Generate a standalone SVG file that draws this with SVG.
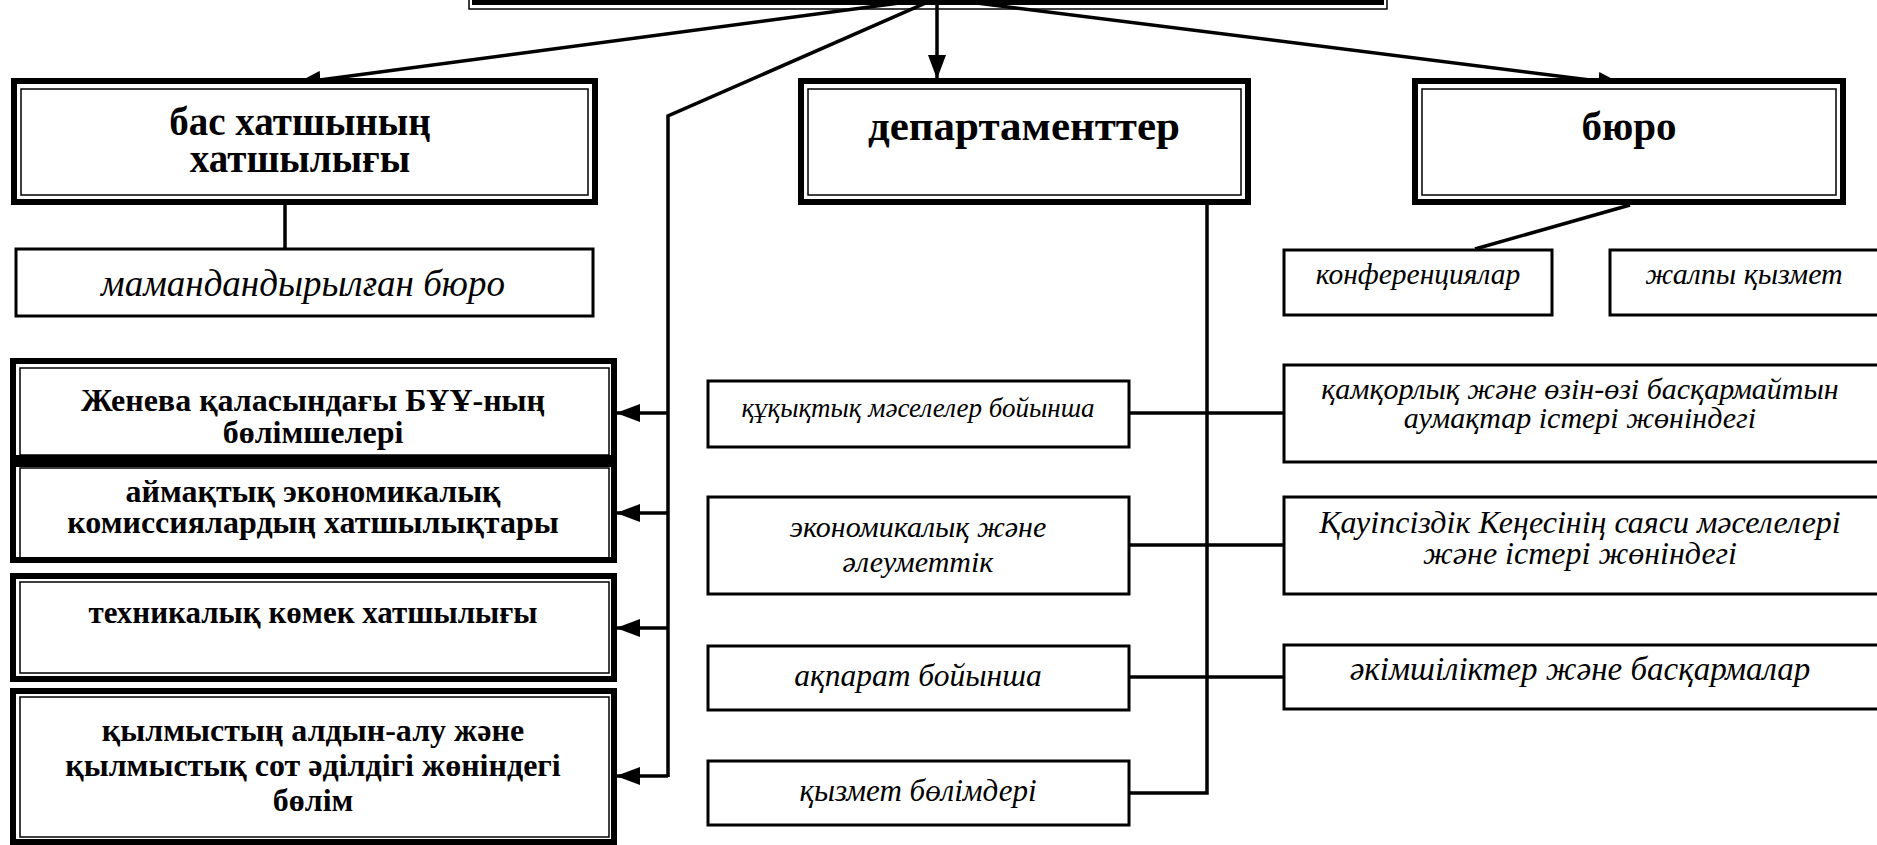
<svg xmlns="http://www.w3.org/2000/svg" width="1877" height="845" viewBox="0 0 1877 845">
<style>
.o{fill:#fff;stroke:#000;stroke-width:6}
.i{fill:none;stroke:#000;stroke-width:1.5}
.s{fill:#fff;stroke:#000;stroke-width:3}
.c{fill:none;stroke:#000;stroke-width:3.5}
.b{font-family:"Liberation Serif","DejaVu Serif",serif;font-weight:bold;text-anchor:middle;fill:#000}
.t{font-family:"Liberation Serif","DejaVu Serif",serif;font-style:italic;text-anchor:middle;fill:#000}
</style>
<defs>
<marker id="ah" markerUnits="userSpaceOnUse" markerWidth="24" markerHeight="18" viewBox="0 0 24 18" refX="24" refY="9" orient="auto">
<path d="M0,0 L24,9 L0,18 z" fill="#000"/>
</marker>
</defs>
<rect width="1877" height="845" fill="#fff"/>

<g id="top">
<rect x="469" y="-20" width="918" height="29" fill="#fff" stroke="#000" stroke-width="1.5"/>
<rect x="475" y="-20" width="906" height="22" fill="none" stroke="#000" stroke-width="6"/>
</g>

<g id="connectors">
<line class="c" x1="937" y1="-2" x2="297" y2="83" stroke-width="4" marker-end="url(#ah)"/>
<line class="c" x1="937" y1="-2" x2="937" y2="79" marker-end="url(#ah)"/>
<line class="c" x1="937" y1="-2" x2="1622" y2="84" stroke-width="4" marker-end="url(#ah)"/>
<polyline class="c" points="937,-2 668,116 668,777"/>
<line class="c" x1="668" y1="413" x2="616" y2="413" marker-end="url(#ah)"/>
<line class="c" x1="668" y1="513" x2="616" y2="513" marker-end="url(#ah)"/>
<line class="c" x1="668" y1="628" x2="616" y2="628" marker-end="url(#ah)"/>
<line class="c" x1="668" y1="776" x2="616" y2="776" marker-end="url(#ah)"/>
<line class="c" x1="285" y1="205" x2="285" y2="248" stroke-width="2"/>
<polyline class="c" points="1207,205 1207,793 1130,793"/>
<line class="c" x1="1130" y1="413" x2="1283" y2="413"/>
<line class="c" x1="1130" y1="545" x2="1283" y2="545"/>
<line class="c" x1="1130" y1="677" x2="1283" y2="677"/>
<line class="c" x1="1630" y1="205" x2="1475" y2="249" stroke-width="2.5"/>
</g>

<g id="bas">
<rect class="o" x="14" y="81" width="581" height="121"/>
<rect class="i" x="21" y="89" width="567" height="106"/>
<text class="b" x="300" y="135" font-size="39">бас хатшының</text>
<text class="b" x="300" y="172" font-size="39">хатшылығы</text>
</g>

<g id="dep">
<rect class="o" x="801" y="81" width="447" height="121"/>
<rect class="i" x="808" y="89" width="433" height="106"/>
<text class="b" x="1024" y="140" font-size="43">департаменттер</text>
</g>

<g id="buro">
<rect class="o" x="1415" y="81" width="428" height="121"/>
<rect class="i" x="1422" y="89" width="414" height="106"/>
<text class="b" x="1629" y="140" font-size="41">бюро</text>
</g>

<g id="mamand">
<rect class="s" x="16" y="249" width="577" height="67" stroke-width="2.5"/>
<text class="t" x="303" y="296" font-size="37">мамандандырылған бюро</text>
</g>

<g id="geneva">
<rect class="o" x="13" y="361" width="601" height="97"/>
<rect class="i" x="20" y="368" width="589" height="87"/>
<text class="b" x="313" y="411" font-size="32">Женева қаласындағы БҰҰ-ның</text>
<text class="b" x="313" y="443" font-size="32">бөлімшелері</text>
</g>

<g id="aimaq">
<rect class="o" x="13" y="464" width="601" height="96"/>
<rect class="i" x="20" y="468" width="589" height="90"/>
<text class="b" x="313" y="502" font-size="32">аймақтық экономикалық</text>
<text class="b" x="313" y="533" font-size="32">комиссиялардың хатшылықтары</text>
</g>

<g id="tech">
<rect class="o" x="13" y="576" width="601" height="103"/>
<rect class="i" x="20" y="582" width="589" height="91"/>
<text class="b" x="313" y="623" font-size="31">техникалық көмек хатшылығы</text>
</g>

<g id="qylmys">
<rect class="o" x="13" y="691" width="601" height="151"/>
<rect class="i" x="20" y="697" width="589" height="140"/>
<text class="b" x="313" y="741" font-size="32">қылмыстың алдын-алу және</text>
<text class="b" x="313" y="776" font-size="32">қылмыстық сот әділдігі жөніндегі</text>
<text class="b" x="313" y="811" font-size="32">бөлім</text>
</g>

<g id="quqyq">
<rect class="s" x="708" y="381" width="421" height="66"/>
<text class="t" x="918" y="417" font-size="27">құқықтық мәселелер бойынша</text>
</g>

<g id="ekon">
<rect class="s" x="708" y="497" width="421" height="97"/>
<text class="t" x="918" y="537" font-size="30">экономикалық және</text>
<text class="t" x="918" y="572" font-size="30">әлеуметтік</text>
</g>

<g id="aqparat">
<rect class="s" x="708" y="646" width="421" height="64"/>
<text class="t" x="918" y="686" font-size="31.5">ақпарат бойынша</text>
</g>

<g id="qyzmet">
<rect class="s" x="708" y="761" width="421" height="64"/>
<text class="t" x="918" y="801" font-size="31">қызмет бөлімдері</text>
</g>

<g id="konf">
<rect class="s" x="1284" y="250" width="268" height="65"/>
<text class="t" x="1418" y="284" font-size="29.5">конференциялар</text>
</g>

<g id="zhalpy">
<rect class="s" x="1610" y="250" width="280" height="65"/>
<text class="t" x="1744" y="284" font-size="30">жалпы қызмет</text>
</g>

<g id="qamqor">
<rect class="s" x="1284" y="365" width="606" height="97"/>
<text class="t" x="1580" y="399" font-size="30">қамқорлық және өзін-өзі басқармайтын</text>
<text class="t" x="1580" y="428" font-size="30">аумақтар істері жөніндегі</text>
</g>

<g id="qauip">
<rect class="s" x="1284" y="497" width="606" height="97"/>
<text class="t" x="1580" y="533" font-size="32">Қауіпсіздік Кеңесінің саяси мәселелері</text>
<text class="t" x="1580" y="564" font-size="32">және істері жөніндегі</text>
</g>

<g id="akim">
<rect class="s" x="1284" y="645" width="606" height="64"/>
<text class="t" x="1580" y="680" font-size="33">әкімшіліктер және басқармалар</text>
</g>
</svg>
